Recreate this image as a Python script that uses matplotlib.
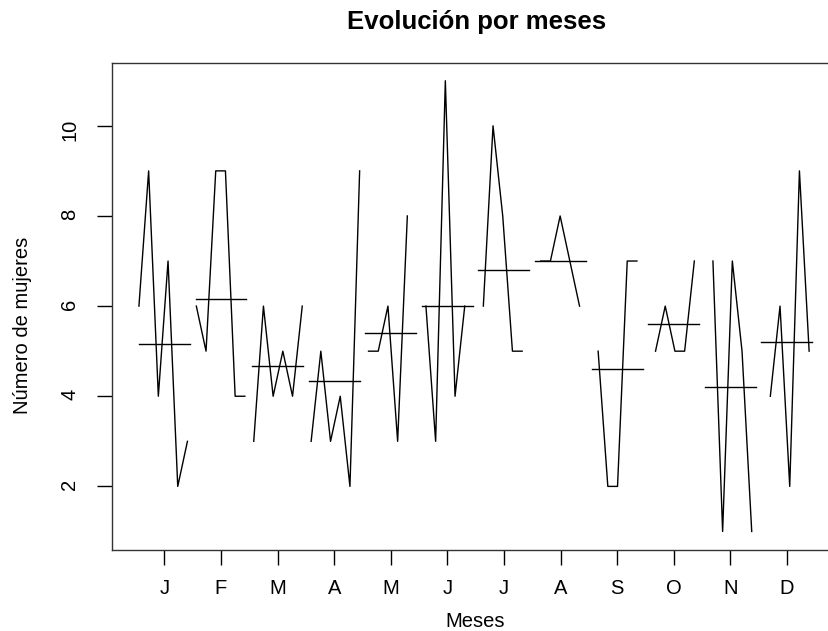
import matplotlib
matplotlib.use("Agg")
import matplotlib.pyplot as plt
import numpy as np

plt.rcParams['font.family'] = ['Liberation Sans', 'DejaVu Sans']

# valores por mes (serie de ene año 1 a abr año 6)
meses = ["J", "F", "M", "A", "M", "J", "J", "A", "S", "O", "N", "D"]
ene = [6, 9, 4, 7, 2, 3]
feb = [6, 5, 9, 9, 4, 4]
mar = [3, 6, 4, 5, 4, 6]
abr = [3, 5, 3, 4, 2, 9]
may = [5, 5, 6, 3, 8]
jun = [6, 3, 11, 4, 6]
jul = [6, 10, 8, 5, 5]
ago = [7, 7, 8, 7, 6]
sep = [5, 2, 2, 7, 7]
octu = [5, 6, 5, 5, 7]
nov = [7, 1, 7, 5, 1]
dic = [4, 6, 2, 9, 5]
datos = [ene, feb, mar, abr, may, jun, jul, ago, sep, octu, nov, dic]


def main():
    n_total = sum(len(d) for d in datos)

    fig = plt.figure(figsize=(8.29, 6.31), dpi=100)
    W, H = 829, 631
    izq, der, arr, aba = 112, 839.3, 62.7, 549.5
    ax = fig.add_axes([izq / W, (H - aba) / H, (der - izq) / W, (aba - arr) / H])

    for i, valores in enumerate(datos, start=1):
        # posicion segun el tiempo de cada observacion, como monthplot de R
        t = np.array([k * 12 + i for k in range(len(valores))])
        x = i - 0.45 + 0.9 * (t - 1) / (n_total - 1)
        ax.plot(x, valores, color='black', lw=1.0)
        ax.plot([i - 0.45, i + 0.45], [np.mean(valores)] * 2, color='black', lw=1.0)

    ax.set_xlim(0.55 - 0.04 * 11.9, 12.45 + 0.04 * 11.9)
    ax.set_ylim(1 - 0.4, 11 + 0.4)
    ax.set_xticks(range(1, 13))
    ax.set_xticklabels(meses)
    ax.set_yticks([2, 4, 6, 8, 10])
    ax.tick_params(axis='x', length=10.5, width=1.0, pad=11, labelsize=14.5)
    ax.tick_params(axis='y', length=10.5, width=1.0, pad=13, labelsize=14.5, labelrotation=90)
    for lado in ax.spines.values():
        lado.set_linewidth(1.0)
        lado.set_color('#333333')

    fig.text(476.5 / W, 1 - 29.5 / H, "Evolución por meses", ha='center', va='baseline',
             fontsize=18.5, fontweight='bold')
    fig.text(475.5 / W, 1 - 627 / H, "Meses", ha='center', va='baseline', fontsize=14.5)
    fig.text(23 / W, 1 - 325.7 / H, "Número de mujeres", ha='center', va='center',
             rotation=90, fontsize=14.5)

    fig.savefig("out.png", dpi=100)


if __name__ == "__main__":
    main()
